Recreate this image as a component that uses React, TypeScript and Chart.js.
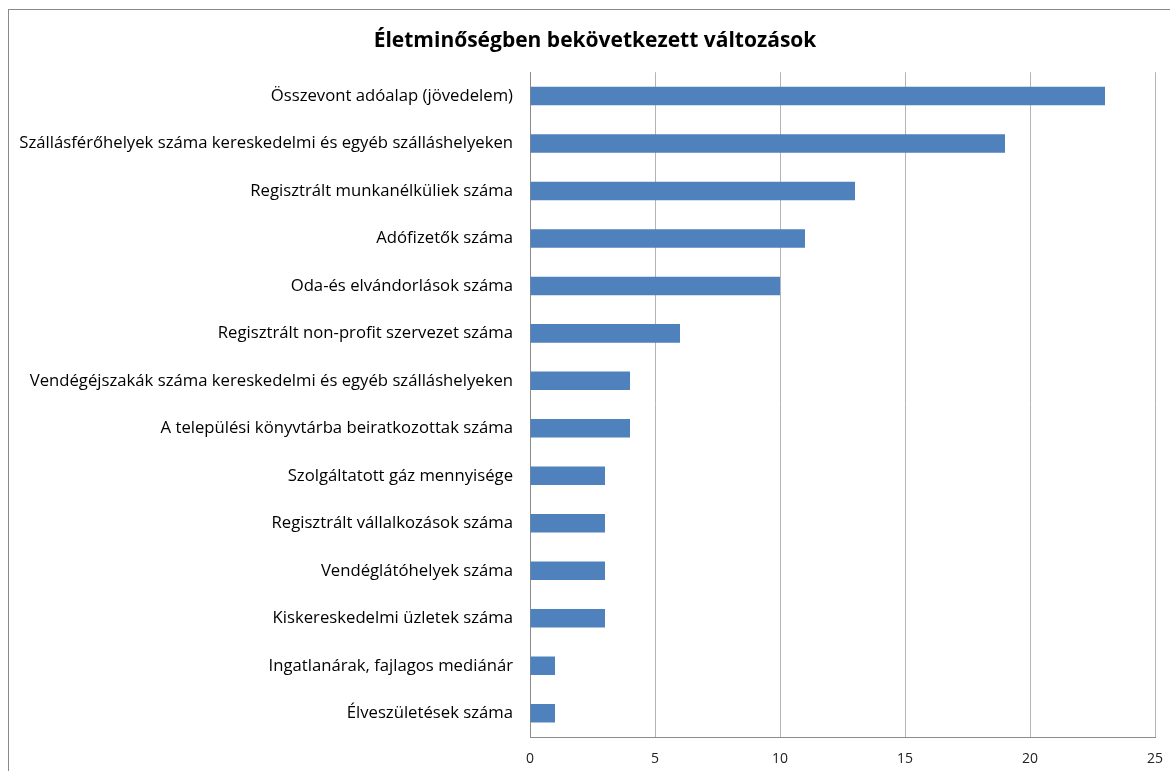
import React, { useEffect, useRef } from "react";
import { Chart, registerables } from "chart.js";

Chart.register(...registerables);

const categories = [
  "Összevont adóalap (jövedelem)",
  "Szállásférőhelyek száma kereskedelmi és egyéb szálláshelyeken",
  "Regisztrált munkanélküliek száma",
  "Adófizetők száma",
  "Oda-és elvándorlások száma",
  "Regisztrált non-profit szervezet száma",
  "Vendégéjszakák száma kereskedelmi és egyéb szálláshelyeken",
  "A települési könyvtárba beiratkozottak száma",
  "Szolgáltatott gáz mennyisége",
  "Regisztrált vállalkozások száma",
  "Vendéglátóhelyek száma",
  "Kiskereskedelmi üzletek száma",
  "Ingatlanárak, fajlagos mediánár",
  "Élveszületések száma",
];

const values = [23, 19, 13, 11, 10, 6, 4, 4, 3, 3, 3, 3, 1, 1];

const xTicks = [0, 5, 10, 15, 20, 25];

const titleText = "Életminőségben bekövetkezett változások";

const FONT = "'Open Sans', Lato, sans-serif";

export default function App() {
  const ref = useRef<HTMLCanvasElement | null>(null);

  useEffect(() => {
    if (!ref.current) return;
    const chart = new Chart(ref.current, {
      type: "bar",
      data: {
        labels: categories,
        datasets: [
          {
            data: values,
            backgroundColor: "#4F81BD",
            borderWidth: 0,
            categoryPercentage: 1,
            barPercentage: 0.39,
          },
        ],
      },
      options: {
        indexAxis: "y",
        responsive: false,
        animation: false,
        layout: { padding: 0 },
        plugins: {
          legend: { display: false },
          tooltip: { enabled: false },
          title: {
            display: true,
            text: titleText,
            color: "#000",
            font: { family: FONT, size: 21, weight: "bold" },
            padding: { top: 18, bottom: 19 },
          },
        },
        scales: {
          x: {
            min: 0,
            max: 25,
            afterBuildTicks: (s: any) => {
              s.ticks = xTicks.map((v) => ({ value: v }));
            },
            afterFit: (s: any) => {
              s.height = 34;
            },
            grid: {
              color: "#b4b4b4",
              lineWidth: 1,
              drawTicks: false,
            },
            border: { display: true, color: "#8c8c8c", width: 1 },
            ticks: {
              color: "#222",
              padding: 14,
              font: { family: FONT, size: 14 },
            },
          },
          y: {
            afterFit: (s: any) => {
              s.width = 521;
            },
            grid: { display: false, drawTicks: false },
            border: { display: true, color: "#8c8c8c", width: 1 },
            ticks: {
              color: "#000",
              padding: 17,
              autoSkip: false,
              font: { family: FONT, size: 16.7 },
            },
          },
          yRight: {
            type: "linear",
            position: "right",
            display: true,
            afterFit: (s: any) => {
              s.width = 26;
            },
            grid: { display: false, drawTicks: false },
            border: { display: false },
            ticks: { display: false },
          },
        },
      },
    });
    return () => chart.destroy();
  }, []);

  return (
    <div
      style={{
        position: "fixed",
        left: 0,
        top: 0,
        width: 1170,
        height: 771,
        overflow: "hidden",
        background: "#fff",
      }}
    >
      <div
        style={{
          position: "absolute",
          left: 8,
          top: 9,
          width: 1172,
          height: 800,
          border: "1px solid #8a8a8a",
          background: "#fff",
        }}
      >
        <canvas
          ref={ref}
          width={1172}
          height={761}
          style={{ display: "block", width: 1172, height: 761 }}
        />
      </div>
    </div>
  );
}
